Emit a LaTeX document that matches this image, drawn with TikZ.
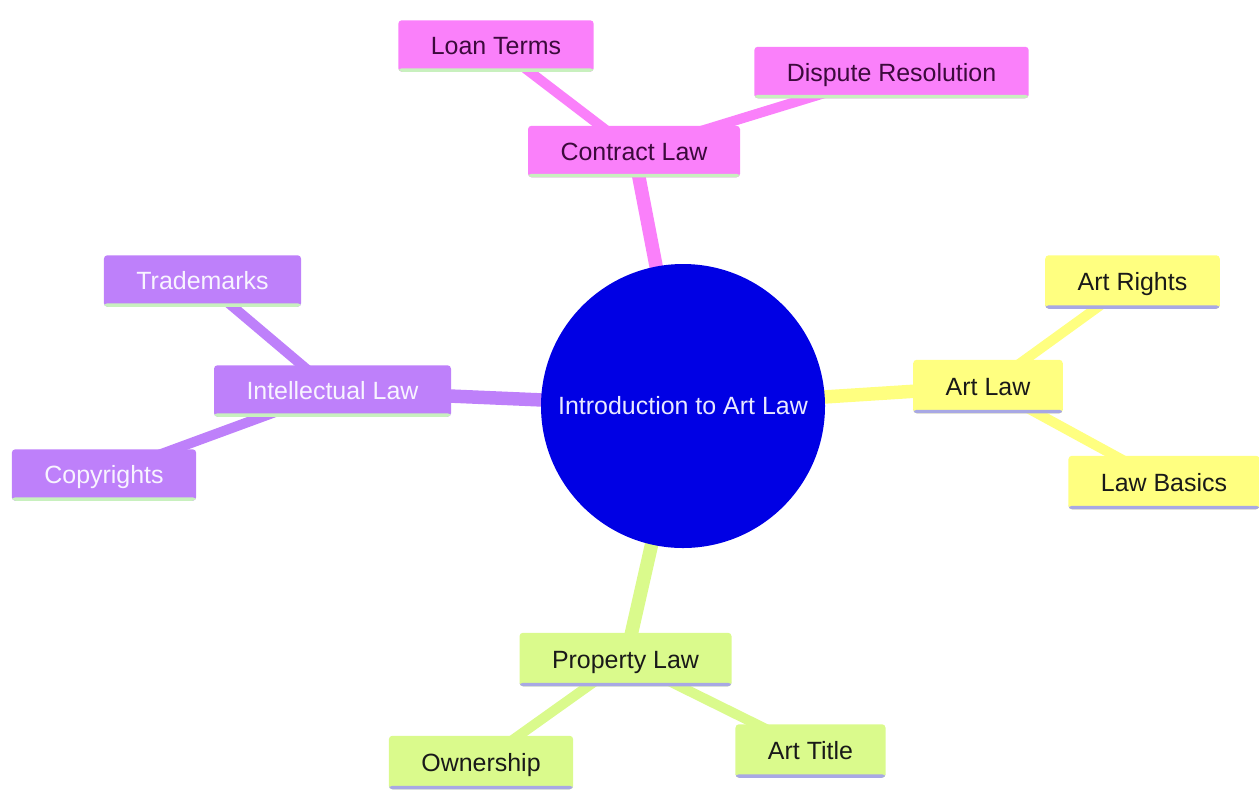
\documentclass[tikz,border=0pt]{standalone}
\usepackage{fontspec}
\setmainfont{Liberation Sans}
\usepackage{tikz}
\usetikzlibrary{positioning}
\definecolor{rootblue}{RGB}{0,0,228}
\definecolor{roottext}{RGB}{232,232,255}
\definecolor{pinkc}{RGB}{250,128,250}
\definecolor{pinktext}{RGB}{60,10,60}
\definecolor{purplec}{RGB}{190,128,250}
\definecolor{purpletext}{RGB}{248,244,255}
\definecolor{yellowc}{RGB}{255,255,128}
\definecolor{greenc}{RGB}{218,250,140}
\definecolor{darktext}{RGB}{25,25,25}
\definecolor{lineGreen}{RGB}{200,240,190}
\definecolor{lineLav}{RGB}{168,168,228}
\pgfdeclarelayer{background}
\pgfsetlayers{background,main}
\tikzset{underline/.style={path picture={\fill[#1] ([yshift=0.07cm]path picture bounding box.south west) rectangle (path picture bounding box.south east);}}}
\tikzstyle{topic}    = [rectangle, rounded corners=2pt, minimum height=1.03cm, inner xsep=0.65cm, text height=10.2pt, text depth=0pt, font=\fontsize{14.2}{17}\selectfont]
\tikzstyle{contract} = [topic, fill=pinkc, text=pinktext, underline=lineGreen]
\tikzstyle{intell}   = [topic, fill=purplec, text=purpletext, underline=lineGreen]
\tikzstyle{artl}     = [topic, fill=yellowc, text=darktext, underline=lineLav, minimum height=1.07cm]
\tikzstyle{prop}     = [topic, fill=greenc, text=darktext, underline=lineLav, minimum height=1.07cm]
\tikzstyle{rootnode} = [circle, fill=rootblue, text=roottext, minimum size=5.68cm, inner sep=0pt, font=\fontsize{14.2}{17}\selectfont]
\tikzstyle{trunk}    = [line width=0.27cm]
\tikzstyle{twig}     = [line width=0.2cm]

\begin{document}
\begin{tikzpicture}

    \useasboundingbox (0,0) rectangle (25.18,-15.78);

    \node[rootnode] (root) at (13.66,-8.12) {Introduction to Art Law};

    \node[contract] (contract) at (12.68,-3.03) {Contract Law};
    \node[contract] (loan)     at (9.92,-0.92)  {Loan Terms};
    \node[contract] (dispute)  at (17.83,-1.45) {Dispute Resolution};

    \node[intell] (intellectual) at (6.65,-7.82) {Intellectual Law};
    \node[intell] (trademarks)   at (4.05,-5.62) {Trademarks};
    \node[intell] (copyrights)   at (2.08,-9.50) {Copyrights};

    \node[artl] (artlaw)    at (19.76,-7.73) {Art Law};
    \node[artl] (artrights) at (22.65,-5.64) {Art Rights};
    \node[artl] (lawbasics) at (23.28,-9.65) {Law Basics};

    \node[prop] (property)  at (12.51,-13.19) {Property Law};
    \node[prop] (ownership) at (9.62,-15.25)  {Ownership};
    \node[prop] (arttitle)  at (16.21,-15.02) {Art Title};

    % branches behind the boxes
    \begin{pgfonlayer}{background}
    \draw[trunk, pinkc]   (root.center) -- (contract.center);
    \draw[twig, pinkc]    (contract.center) -- (loan.center);
    \draw[twig, pinkc]    (contract.center) -- (dispute.center);

    \draw[trunk, purplec] (root.center) -- (intellectual.center);
    \draw[twig, purplec]  (intellectual.center) -- (trademarks.center);
    \draw[twig, purplec]  (intellectual.center) -- (copyrights.center);

    \draw[trunk, yellowc] (root.center) -- (artlaw.center);
    \draw[twig, yellowc]  (artlaw.center) -- (artrights.center);
    \draw[twig, yellowc]  (artlaw.center) -- (lawbasics.center);

    \draw[trunk, greenc]  (root.center) -- (property.center);
    \draw[twig, greenc]   (property.center) -- (ownership.center);
    \draw[twig, greenc]   (property.center) -- (arttitle.center);
    \end{pgfonlayer}

\end{tikzpicture}
\end{document}
